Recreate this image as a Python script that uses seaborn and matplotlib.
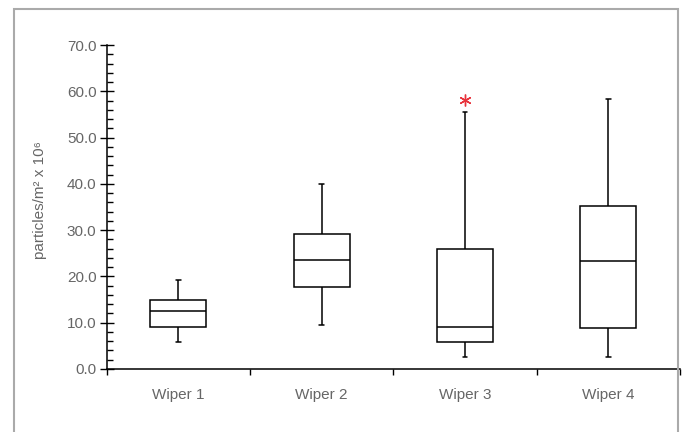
import matplotlib
matplotlib.use("Agg")
import matplotlib.pyplot as plt
import matplotlib.ticker as mticker
from matplotlib.patches import Rectangle
import pandas as pd
import seaborn as sns

# box statistics (particles/m2 x 10^6)
wipers = ["Wiper 1", "Wiper 2", "Wiper 3", "Wiper 4"]
whisker_low = [5.9, 9.5, 2.6, 2.7]
q1 = [9.1, 17.7, 5.8, 8.8]
median = [12.5, 23.6, 9.1, 23.4]
q3 = [14.8, 29.2, 26.0, 35.3]
whisker_high = [19.2, 40.0, 55.6, 58.4]
outliers = [[], [], [58.1], []]


def sample(i):
    """Points whose boxplot stats give back the values above"""
    if outliers[i]:
        # 9 points -> quartiles fall on positions 2, 4 and 6
        return [whisker_low[i], q1[i], q1[i], median[i], median[i], median[i],
                q3[i], whisker_high[i]] + outliers[i]
    return [whisker_low[i], q1[i], median[i], q3[i], whisker_high[i]]


rows = [(w, v) for i, w in enumerate(wipers) for v in sample(i)]
df = pd.DataFrame(rows, columns=["wiper", "value"])

sns.set_theme(style="white")
plt.rcParams["font.family"] = ["Liberation Sans", "DejaVu Sans"]

fig = plt.figure(figsize=(6.83, 4.32), dpi=100)
ax = fig.add_axes([106.5 / 683, 1 - 369 / 432, 573.5 / 683, 324 / 432])

sns.boxplot(data=df, x="wiper", y="value", order=wipers, ax=ax,
            width=0.39, color="white", linecolor="black", linewidth=1.1,
            capwidths=0.034,
            flierprops=dict(marker=(6, 2, 0), markersize=8.5, markeredgewidth=1.0,
                            markeredgecolor="#e8333c", markerfacecolor="#e8333c"))

ax.set_xlim(-0.5, 3.5)
ax.set_ylim(0, 70)
sns.despine(ax=ax)
for s in ("left", "bottom"):
    ax.spines[s].set_color("black")
    ax.spines[s].set_linewidth(1.1)

ax.yaxis.set_major_locator(mticker.MultipleLocator(10))
ax.yaxis.set_minor_locator(mticker.MultipleLocator(2))
ax.yaxis.set_major_formatter(mticker.FormatStrFormatter("%.1f"))
ax.tick_params(axis="y", which="major", direction="inout", length=9.4, width=1.0,
               color="black", labelcolor="#666666", labelsize=11, pad=2.5, left=True)
ax.tick_params(axis="y", which="minor", direction="in", length=4.3, width=1.0,
               color="black", left=True)

ax.xaxis.set_minor_locator(mticker.FixedLocator([-0.5, 0.5, 1.5, 2.5, 3.5]))
ax.tick_params(axis="x", which="major", length=0, labelcolor="#666666",
               labelsize=11, pad=14)
ax.tick_params(axis="x", which="minor", direction="out", length=4.3, width=1.0,
               color="black", bottom=True)

ax.set_xlabel("")
ax.set_ylabel("particles/m² x 10⁶", color="#666666", fontsize=11)
ax.yaxis.set_label_coords(-0.104, 0.52)

# grey frame around the figure
fig.add_artist(Rectangle((14 / 683, -0.1), 664 / 683, 1.1 - 9.3 / 432,
                         transform=fig.transFigure, fill=False,
                         edgecolor="#aaaaaa", linewidth=1.5, clip_on=False))

fig.savefig("out.png", dpi=100)
